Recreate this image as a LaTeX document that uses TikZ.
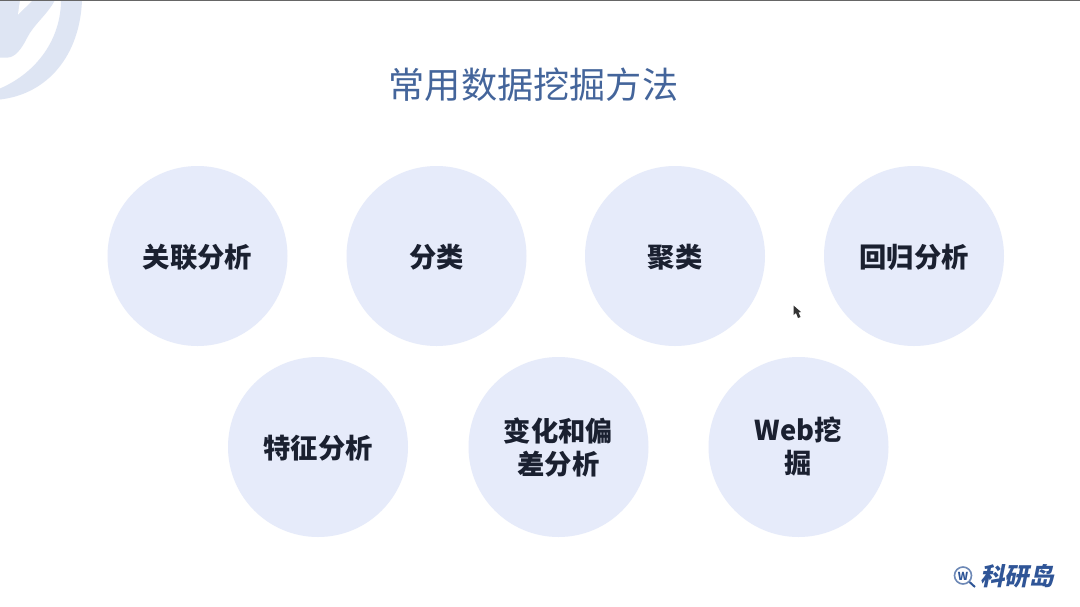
\documentclass[tikz,border=0pt]{standalone}
\usepackage{fontspec}
\setmainfont{Noto Sans CJK SC}
\definecolor{circ}{HTML}{E6EBFA}
\definecolor{titlec}{HTML}{44659B}
\definecolor{logoc}{HTML}{DEE5F3}
\definecolor{brand}{HTML}{2F5597}
\definecolor{labelc}{HTML}{1A2030}
\tikzset{
  x=1pt,y=-1pt,
  bubble/.style={circle,fill=circ,minimum size=180pt,inner sep=0pt,text=labelc,font=\fontsize{27.3}{33}\selectfont\bfseries,align=center},
  oneline/.style={bubble,text depth=0pt},
}
\begin{document}
\begin{tikzpicture}
\useasboundingbox (0,0) rectangle (1080,606);
\fill[white] (0,0) rectangle (1080,606);
\fill[black!60] (0,0) rectangle (1080,1.2);
% corner watermark
\begin{scope}
\clip (0,1.2) rectangle (1080,606);
\fill[logoc] (0,99.5) .. controls (48,94) and (80,55) .. (82,0) -- (61,0) .. controls (61,38) and (38,72) .. (0,88.5) -- cycle;
\fill[logoc] (0,0) -- (55,0) .. controls (48,14) and (34,24) .. (27,38) .. controls (21,50) and (15,57) .. (8,57.5) -- (0,57.5) -- cycle;
\fill[white] (33,0) -- (18,14.5) -- (20,0) -- cycle;
\end{scope}
\node (title) at (533.5,85) {\fontsize{36.2}{40}\selectfont\color{titlec}常用数据挖掘方法};
\node[oneline] (a) at (197.5,256) {关联分析};
\node[oneline] (b) at (436.5,256) {分类};
\node[oneline] (c) at (675,256) {聚类};
\node[oneline] (d) at (914,256) {回归分析};
\node[oneline] (e) at (318,447) {特征分析};
\node[bubble] (f) at (558.5,447) {变化和偏\\差分析};
\node[bubble] (g) at (798.5,447) {Web挖\\掘};
% cursor
\fill[black!80] (793.5,305.5) -- (793.5,315) -- (796,313) -- (798,318) -- (800.5,317) -- (798.5,312.5) -- (801,312) -- cycle;
% brand mark
\draw[brand!70,line width=1.6pt] (963,575.5) circle (8.5);
\draw[brand,line width=2pt] (969.5,582) -- (975,587);
\node[text=brand,font=\fontsize{11}{11}\selectfont\bfseries\itshape] (w) at (963,576) {W};
\node[text=brand,font=\fontsize{24.5}{24}\selectfont\bfseries,xslant=0.2] (brandname) at (1019,576) {科研岛};
\end{tikzpicture}
\end{document}
